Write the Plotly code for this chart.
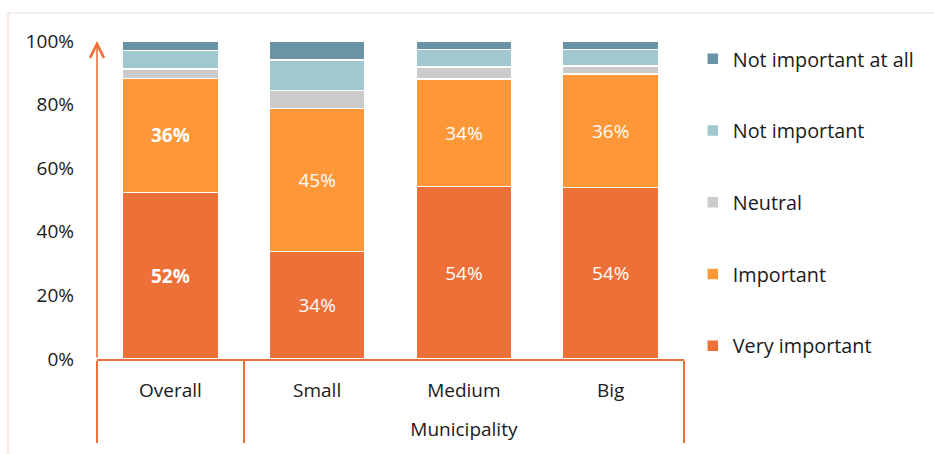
import plotly.graph_objects as go

groups = [" ", "<br>Municipality", "<br>Municipality", "<br>Municipality"]
categories = ["Overall", "Small", "Medium", "Big"]

very_important = [52.4, 33.8, 54.3, 54.0]
important = [35.8, 44.9, 33.8, 35.6]
neutral = [3.0, 5.8, 3.7, 2.5]
not_important = [5.8, 9.6, 5.5, 5.2]
not_important_at_all = [3.0, 5.9, 2.7, 2.7]

y_tickvals = [0, 20, 40, 60, 80, 100]
y_ticktext = ["0%", "20%", "40%", "60%", "80%", "100%"]

series = [
    ("Very important", very_important, "#ED7038", True),
    ("Important", important, "#FE9737", True),
    ("Neutral", neutral, "#CBCBCB", False),
    ("Not important", not_important, "#9FC8D0", False),
    ("Not important at all", not_important_at_all, "#6A93A6", False),
]

FONT = "Open Sans"
FS = 19
ORANGE = "#ED7038"
TXT = "#1a1a1a"

fig = go.Figure()
n = len(series)
for k, (name, vals, color, labelled) in enumerate(series):
    if labelled:
        text = []
        for i, v in enumerate(vals):
            s = f"{v:.0f}%"
            text.append(f"<b>{s}</b>" if categories[i] == "Overall" else s)
    else:
        text = None
    fig.add_trace(go.Bar(
        name=name,
        x=[groups, categories],
        y=vals,
        marker=dict(color=color, line=dict(color="white", width=1.5)),
        text=text,
        textposition="inside" if labelled else "none",
        insidetextanchor="middle",
        textfont=dict(color="white", size=FS, family=FONT),
        legendgroup=name,
        legendrank=n - k,
        hoverinfo="skip",
    ))

fig.update_layout(
    barmode="stack",
    bargap=0.345,
    width=934, height=454,
    margin=dict(l=97, r=250, t=41, b=95),
    plot_bgcolor="white",
    paper_bgcolor="white",
    font=dict(family=FONT, size=FS, color=TXT),
    showlegend=True,
    legend=dict(
        x=1.015, y=1.005, xanchor="left", yanchor="top",
        traceorder="grouped",
        tracegroupgap=43,
        maxheight=450,
        font=dict(size=19.8, family=FONT, color=TXT),
        bgcolor="rgba(0,0,0,0)",
    ),
    xaxis=dict(
        type="multicategory",
        showline=True, linecolor=ORANGE, linewidth=1.5,
        showdividers=True, dividercolor=ORANGE, dividerwidth=1.5,
        ticks="", showgrid=False,
        ticklabelstandoff=13,
        tickfont=dict(size=FS, family=FONT, color=TXT),
    ),
    yaxis=dict(
        range=[0, 100],
        tickvals=y_tickvals,
        ticktext=y_ticktext,
        showgrid=False, zeroline=False, showline=False,
        ticks="", ticklabelstandoff=22,
        tickfont=dict(size=FS, family=FONT, color=TXT),
    ),
)

# y-axis arrow
fig.add_annotation(
    xref="paper", x=0, yref="y", y=100,
    axref="pixel", ax=0, ayref="y", ay=0,
    text="", showarrow=True,
    arrowhead=5, arrowsize=1.7, arrowwidth=1.6, arrowcolor=ORANGE,
)

# faint chart border
fig.add_shape(type="line", xref="paper", yref="paper",
              x0=-0.1516, x1=-0.1516, y0=-0.3, y1=1.088,
              line=dict(color="#FBE0D2", width=1.5))
fig.add_shape(type="line", xref="paper", yref="paper",
              x0=-0.1516, x1=1.43, y0=1.088, y1=1.088,
              line=dict(color="#F3E8E3", width=1.5))

fig.write_html("out.html", config={"displayModeBar": False},
               post_script="document.body.style.margin='0';")
